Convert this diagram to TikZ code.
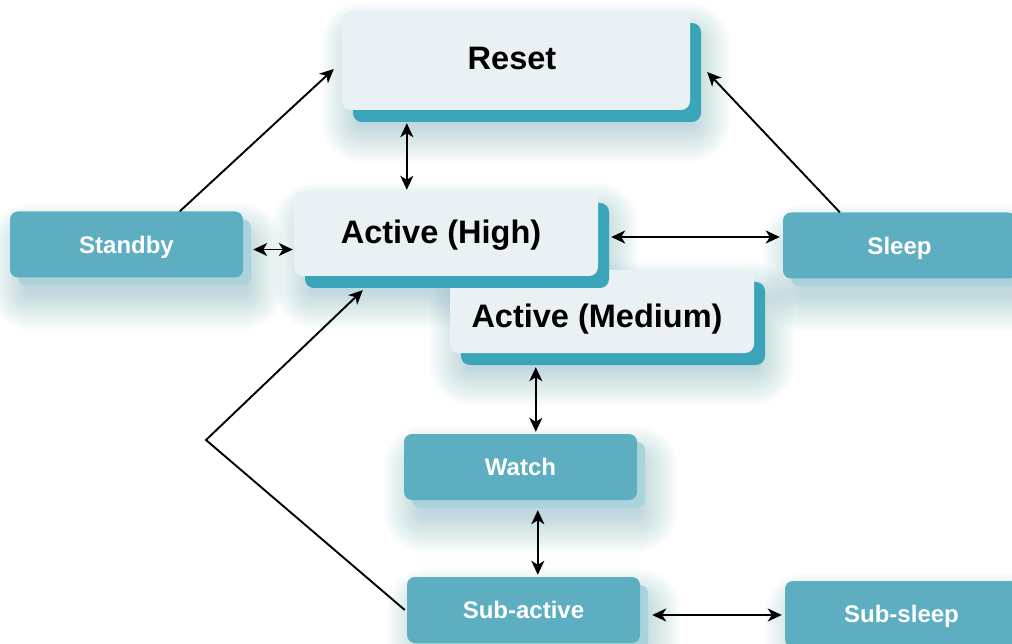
\documentclass[tikz,border=0pt]{standalone}
\usepackage{fontspec}
\setmainfont{Liberation Sans}
\usetikzlibrary{arrows.meta,calc,shadows}
\definecolor{boxlight}{HTML}{E9F1F4}
\definecolor{boxteal}{HTML}{3AA5B8}
\definecolor{statefill}{HTML}{5EAEC1}
\definecolor{stateshade}{HTML}{ABD3DC}
\definecolor{haze}{HTML}{6FA8BC}
\pgfdeclarelayer{background}
\pgfsetlayers{background,main}
\begin{document}
\begin{tikzpicture}[x=1pt,y=-1pt,
  mainstate/.style={rectangle, rounded corners=9pt, fill=boxlight, inner sep=0pt,
    minimum width=304pt, minimum height=85pt,
    font=\bfseries\fontsize{32.5}{38}\selectfont, text=black,
    text height=23.3pt, text depth=0pt,
    drop shadow={fill=boxteal, opacity=1, shadow xshift=11pt, shadow yshift=-12pt}},
  substate/.style={rectangle, rounded corners=8pt, fill=statefill, inner sep=0pt,
    minimum width=233pt, minimum height=66pt,
    font=\bfseries\fontsize{24}{29}\selectfont, text=white,
    text height=17.2pt, text depth=0pt,
    drop shadow={fill=stateshade, opacity=1, shadow xshift=8pt, shadow yshift=-8pt}},
  glowlayer/.style={fill=haze, opacity=0.025},
  link/.style={line width=1.9pt, black},
  headtip/.tip={Stealth[length=14pt,width=13pt,inset=4pt]},
  onearrow/.style={link, -headtip},
  twoarrow/.style={link, headtip-headtip},
]
\useasboundingbox (0,0) rectangle (1012,644);

% states
\node[mainstate, minimum width=348pt, minimum height=99pt, text depth=5pt]
  (reset) at (516,60.5) {Reset\kern8pt};
\node[mainstate, minimum height=83pt, text height=31.3pt]
  (medium) at (602,311.5) {Active (Medium)\kern10pt};
\node[mainstate, text depth=4pt] (high) at (446,233.5) {Active (High)\kern10pt};
\node[substate] (standby) at (126.5,244.5) {Standby};
\node[substate] (sleep) at (899.5,245.5) {Sleep};
\node[substate] (watch) at (520.5,467) {Watch};
\node[substate] (subactive) at (523.5,610) {Sub-active};
\node[substate] (subsleep) at (901.5,614) {Sub-sleep};

% soft glow under every state, built from stacked translucent layers
\begin{pgfonlayer}{background}
  \fill[white] (0,0) rectangle (1012,644);
  \foreach \n in {reset,high,medium,standby,sleep,watch,subactive,subsleep}
    \foreach \r in {-6,-4,...,30} {
      \pgfmathsetmacro{\rc}{max(4,\r+10)}
      \fill[glowlayer, rounded corners=\rc pt]
        ($(\n.north west)+(10-\r,22-\r)$) rectangle ($(\n.south east)+(10+\r,22+\r)$);
    }
\end{pgfonlayer}

% transitions
\draw[onearrow] ($(standby.north west)+(170,0)$) -- ($(reset.west)+(-8,8.5)$);
\draw[onearrow] ($(sleep.north west)+(57,0)$) -- ($(reset.east)+(17,11.5)$);
\draw[twoarrow] ($(reset.south west)+(65,13)$) -- ($(high.north west)+(113,-1)$);
\draw[twoarrow] ($(standby.east)+(10,5)$) -- ($(high.west)+(-1,16)$);
\draw[twoarrow] ($(high.east)+(13,3.5)$) -- ($(sleep.west)+(-3,-8.5)$);
\draw[twoarrow] ($(medium.south west)+(86,14)$) -- ($(watch.north west)+(132,-2)$);
\draw[twoarrow] ($(watch.south west)+(134,10)$) -- ($(subactive.north west)+(131,-2)$);
\draw[twoarrow] ($(subactive.east)+(12,5)$) -- ($(subsleep.west)+(-3,1)$);
\coordinate (bend) at (206,440);
\draw[onearrow] ($(subactive.west)+(-2,0)$) -- (bend) -- ($(high.south west)+(69,14)$);
\end{tikzpicture}
\end{document}
